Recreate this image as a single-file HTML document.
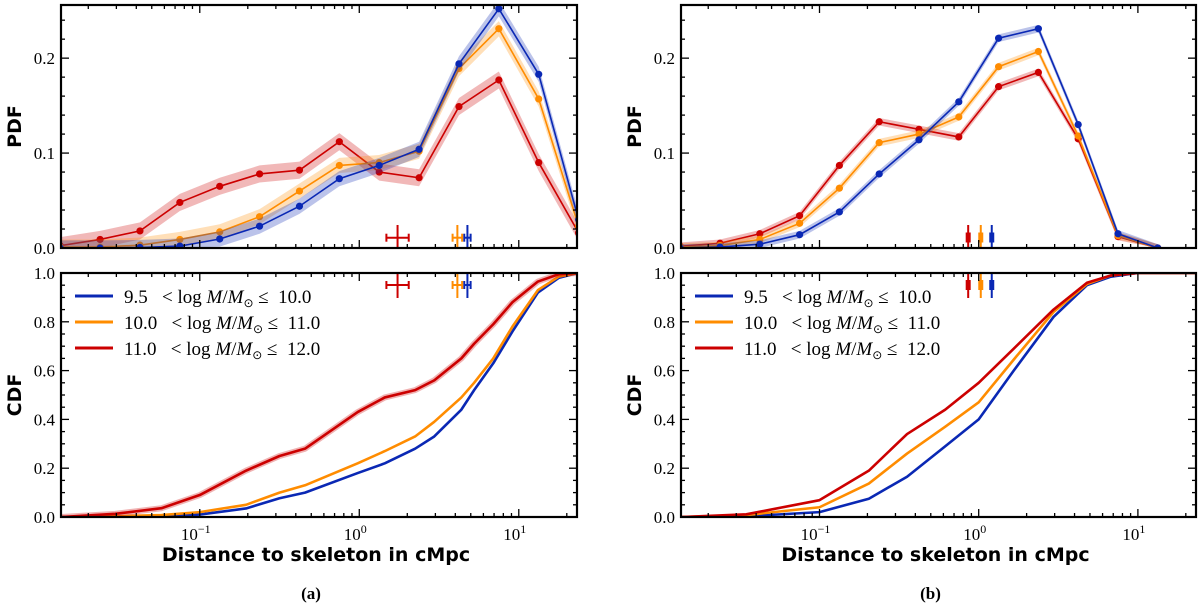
<!DOCTYPE html>
<html><head><meta charset="utf-8">
<style>
html,body{margin:0;padding:0;background:#fff;}
svg{display:block;}
.tick{font-family:"Liberation Serif",serif;font-size:17px;fill:#000;}
.atitle{font-family:"DejaVu Sans","Liberation Sans",sans-serif;font-weight:bold;font-size:19px;fill:#000;}
.leg{font-family:"Liberation Serif",serif;font-size:19px;fill:#000;}
</style></head>
<body>
<svg id="fig" width="1200" height="610" viewBox="0 0 1200 610" xmlns="http://www.w3.org/2000/svg"></svg>
<script>
// ---- data ----
const binLogCenters = [-1.875,-1.625,-1.375,-1.125,-0.875,-0.625,-0.375,-0.125,0.125,0.375,0.625,0.875,1.125,1.375];
const pdfA_blue   = [0,0,0.0005,0.002,0.0095,0.023,0.044,0.073,0.087,0.104,0.194,0.252,0.183,0.03];
const pdfA_orange = [0.001,0.001,0.003,0.009,0.017,0.033,0.060,0.087,0.090,0.102,0.189,0.231,0.157,0.023];
const pdfA_red    = [0.0025,0.009,0.018,0.048,0.065,0.078,0.082,0.112,0.080,0.074,0.149,0.177,0.090,0.016];
const pdfB_blue   = [0,0.001,0.004,0.014,0.038,0.078,0.114,0.154,0.221,0.231,0.130,0.015,0];
const pdfB_orange = [0.001,0.0025,0.009,0.026,0.063,0.111,0.120,0.138,0.191,0.207,0.118,0.013,0];
const pdfB_red    = [0.0018,0.005,0.015,0.034,0.087,0.133,0.125,0.117,0.170,0.185,0.115,0.012,0];
const cdfA_logx   = [-1.87,-1.53,-1.24,-1.0,-0.71,-0.5,-0.34,-0.01,0.16,0.35,0.47,0.64,0.72,0.84,0.96,1.12,1.25,1.37];
const cdfA_red    = [0,0.013,0.036,0.09,0.19,0.25,0.28,0.43,0.49,0.52,0.56,0.65,0.71,0.79,0.88,0.965,0.995,1.0];
const cdfA_orange = [0,0.003,0.008,0.02,0.05,0.10,0.13,0.22,0.27,0.33,0.39,0.49,0.55,0.65,0.78,0.93,0.985,1.0];
const cdfA_blue   = [0,0.001,0.004,0.01,0.035,0.077,0.10,0.18,0.22,0.28,0.33,0.44,0.52,0.63,0.76,0.92,0.98,1.0];
const cdfB_logx   = [-1.87,-1.46,-1.0,-0.69,-0.45,-0.21,0,0.22,0.47,0.68,0.83,1.0,1.36];
const cdfB_red    = [0,0.011,0.069,0.19,0.34,0.44,0.55,0.69,0.85,0.96,0.99,1.0,1.0];
const cdfB_orange = [0,0.008,0.04,0.137,0.26,0.37,0.47,0.645,0.84,0.955,0.99,1.0,1.0];
const cdfB_blue   = [0,0.003,0.02,0.075,0.165,0.29,0.40,0.60,0.82,0.95,0.985,1.0,1.0];
const medA_logx = [0.678,0.615,0.24];   // blue, orange, red
const medA_err  = [0.02,0.03,0.07];
const medB_logx = [0.082,0.013,-0.066];
const seriesColors = ["#0a28b4","#ff8c00","#cc0000"];
const legendLabels = ["9.5","10.0","11.0"];
const legendUpper = ["10.0","11.0","12.0"];
const xTickLabels = ["-1","0","1"];
const pdfTicks = [0,0.1,0.2];
const cdfTicks = [0,0.2,0.4,0.6,0.8,1.0];

// ---- helpers ----
const NS="http://www.w3.org/2000/svg";
const svg=document.getElementById('fig');
function mk(tag,attrs,parent){const e=document.createElementNS(NS,tag);for(const k in attrs)e.setAttribute(k,attrs[k]);(parent||svg).appendChild(e);return e;}

const panels=[{x0:61,x1:577},{x0:681,x1:1196}];
const LOGMIN=-1.87,LOGMAX=1.365;
const PDF={top:5,bot:248,max:0.256};
const CDF={top:273,bot:517,max:1.0};

function xs(p,l){return p.x0+(l-LOGMIN)/(LOGMAX-LOGMIN)*(p.x1-p.x0);}
function yp(v){return PDF.bot-v/PDF.max*(PDF.bot-PDF.top);}
function yc(v){return CDF.bot-v*(CDF.bot-CDF.top);}

function axes(p,box,ymaj,yminStep,ylab,yfun,name,showX,title){
  const g=mk('g',{});
  
  
  for(let d=-2;d<=1;d++){for(let m=1;m<10;m++){const l=d+Math.log10(m);if(l<LOGMIN||l>LOGMAX)continue;const x=xs(p,l);const L=m==1?8:4;
    mk('line',{x1:x,x2:x,y1:box.bot,y2:box.bot-L,stroke:'#000','stroke-width':1.3},g);
    mk('line',{x1:x,x2:x,y1:box.top,y2:box.top+L,stroke:'#000','stroke-width':1.3},g);}}
  for(let v=0;v<=box.max+1e-9;v+=yminStep){const y=yfun(v);const maj=ymaj.some(t=>Math.abs(t-v)<1e-6);const L=maj?8:4;
    mk('line',{x1:p.x0,x2:p.x0+L,y1:y,y2:y,stroke:'#000','stroke-width':1.3},g);
    mk('line',{x1:p.x1,x2:p.x1-L,y1:y,y2:y,stroke:'#000','stroke-width':1.3},g);}
  ymaj.forEach(t=>{const tx=mk('text',{x:p.x0-6,y:yfun(t)+6,'text-anchor':'end',class:'tick'},g);tx.textContent=t.toFixed(1);
    
    });
  const yt=mk('text',{x:0,y:0,class:'atitle','text-anchor':'middle',transform:`translate(${p.x0-40},${(box.top+box.bot)/2}) rotate(-90)`},g);
  yt.textContent=ylab;
  
  
  if(showX){xTickLabels.forEach(s=>{const x=xs(p,+s);const t=mk('text',{x:x-4,y:box.bot+23,'text-anchor':'middle',class:'tick'},g);
      t.innerHTML='10<tspan font-size="12" dy="-7">'+(s=='-1'?'\u22121':s)+'</tspan>';
      
      });
    const xt=mk('text',{x:(p.x0+p.x1)/2-3,y:561,class:'atitle','text-anchor':'middle','font-size':'18'},g);
    xt.textContent='Distance to skeleton in cMpc';
    
    
    const st=mk('text',{x:(p.x0+p.x1)/2-8,y:599,'text-anchor':'middle',class:'tick','font-size':'20','font-weight':'bold'},g);
    st.textContent=title;
    
    }
  return g;
}

function pdfSeries(p,vals,color,band,name){
  const g=mk('g',{'clip-path':`url(#clip${p===panels[0]?'A':'B'}p)`});
  
  
  const pts=vals.map((v,i)=>[xs(p,binLogCenters[i]),v]);
  const up=pts.map(([x,v])=>x+','+yp(v+band)).join(' ');
  const dn=pts.slice().reverse().map(([x,v])=>x+','+yp(Math.max(0,v-band))).join(' ');
  mk('polygon',{points:up+' '+dn,fill:color,'fill-opacity':0.28},g);
  mk('polyline',{points:pts.map(([x,v])=>x+','+yp(v)).join(' '),fill:'none',stroke:color,'stroke-width':1.6},g);
  pts.forEach(([x,v])=>{const c=mk('circle',{cx:x,cy:yp(v),r:3.6,fill:color},g);
    
    });
}
function cdfSeries(p,lx,vals,color,name,halo){
  const g=mk('g',{'clip-path':`url(#clip${p===panels[0]?'A':'B'}c)`});
  
  
  const pts=lx.map((l,i)=>xs(p,l)+','+yc(vals[i])).join(' ');
  if(halo)mk('polyline',{points:pts,fill:'none',stroke:color,'stroke-width':6,'stroke-opacity':0.3,'stroke-linejoin':'round'},g);
  mk('polyline',{points:pts,fill:'none',stroke:color,'stroke-width':2.6,'stroke-linejoin':'round'},g);
}

const defs=mk('defs',{});
panels.forEach((p,i)=>{const n=i?'B':'A';
  const c1=mk('clipPath',{id:'clip'+n+'p'},defs);mk('rect',{x:p.x0,y:PDF.top,width:p.x1-p.x0,height:PDF.bot-PDF.top},c1);
  const c2=mk('clipPath',{id:'clip'+n+'c'},defs);mk('rect',{x:p.x0,y:CDF.top,width:p.x1-p.x0,height:CDF.bot-CDF.top},c2);});

const pA=panels[0],pB=panels[1];
pdfSeries(pA,pdfA_red,seriesColors[2],0.009,'pdf-a-red');
pdfSeries(pA,pdfA_orange,seriesColors[1],0.008,'pdf-a-orange');
pdfSeries(pA,pdfA_blue,seriesColors[0],0.008,'pdf-a-blue');
pdfSeries(pB,pdfB_red,seriesColors[2],0.004,'pdf-b-red');
pdfSeries(pB,pdfB_orange,seriesColors[1],0.004,'pdf-b-orange');
pdfSeries(pB,pdfB_blue,seriesColors[0],0.004,'pdf-b-blue');
cdfSeries(pA,cdfA_logx,cdfA_blue,seriesColors[0],'cdf-a-blue');
cdfSeries(pA,cdfA_logx,cdfA_orange,seriesColors[1],'cdf-a-orange');
cdfSeries(pA,cdfA_logx,cdfA_red,seriesColors[2],'cdf-a-red',true);
cdfSeries(pB,cdfB_logx,cdfB_blue,seriesColors[0],'cdf-b-blue');
cdfSeries(pB,cdfB_logx,cdfB_orange,seriesColors[1],'cdf-b-orange');
cdfSeries(pB,cdfB_logx,cdfB_red,seriesColors[2],'cdf-b-red');

[[PDF,237.7,225,248],[CDF,285,273,298]].forEach(([box,yc0,yt,yb])=>{
  medA_logx.forEach((l,i)=>{const x=xs(pA,l);const hw=xs(pA,l+medA_err[i])-x;const col=seriesColors[i];
    const g=mk('g',{stroke:col,'stroke-width':2});
    
    
    mk('line',{x1:x,x2:x,y1:yt,y2:yb},g);
    mk('line',{x1:x-hw,x2:x+hw,y1:yc0,y2:yc0},g);
    mk('line',{x1:x-hw,x2:x-hw,y1:yc0-4,y2:yc0+4},g);
    mk('line',{x1:x+hw,x2:x+hw,y1:yc0-4,y2:yc0+4},g);});
  medB_logx.forEach((l,i)=>{const x=xs(pB,l);const col=seriesColors[i];
    const g=mk('g',{stroke:col});
    
    
    mk('line',{x1:x,x2:x,y1:yt,y2:yb,'stroke-width':2},g);
    const c=(yt+yb)/2+(box===PDF?1:-0.5);
    mk('line',{x1:x,x2:x,y1:c-5,y2:c+5,'stroke-width':5},g);});
});

axes(pA,PDF,pdfTicks,0.02,'PDF',yp,'pdf-axes-a',false,'');
axes(pB,PDF,pdfTicks,0.02,'PDF',yp,'pdf-axes-b',false,'');
axes(pA,CDF,cdfTicks,0.05,'CDF',yc,'cdf-axes-a',true,'(a)');
axes(pB,CDF,cdfTicks,0.05,'CDF',yc,'cdf-axes-b',true,'(b)');
panels.forEach(p=>{[PDF,CDF].forEach(b=>{const r=mk('rect',{x:p.x0,y:b.top,width:p.x1-p.x0,height:b.bot-b.top,fill:'none',stroke:'#000','stroke-width':2.2});
  
  });});

panels.forEach((p,pi)=>{
  const lg=mk('g',{});
  
  
  legendLabels.forEach((lab,i)=>{const y=296+i*26;
    const e=mk('g',{},lg);
    
    
    mk('line',{x1:p.x0+14,x2:p.x0+52,y1:y,y2:y,stroke:seriesColors[i],'stroke-width':3},e);
    const t=mk('text',{x:p.x0+63,y:y+7,class:'leg'},e);
    t.innerHTML=lab+'\u2002 &lt; log <tspan font-style="italic">M</tspan>/<tspan font-style="italic">M</tspan><tspan font-size="12" dy="4">\u2299</tspan><tspan dy="-4"> \u2264\u2002'+legendUpper[i]+'</tspan>';});
});
</script>
</body></html>
